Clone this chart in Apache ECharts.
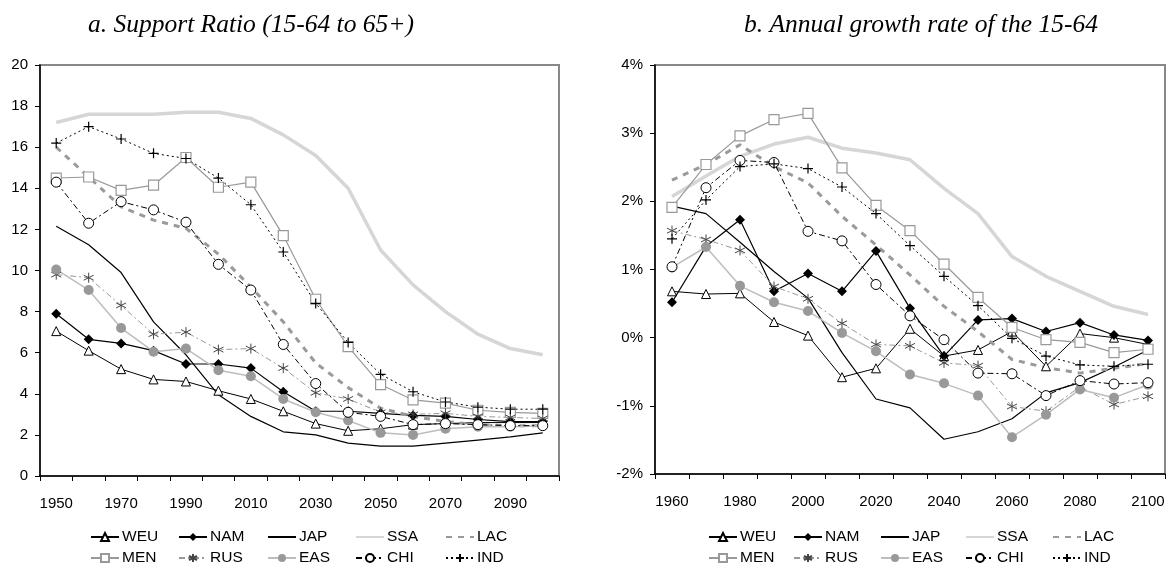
<!DOCTYPE html>
<html>
<head>
<meta charset="utf-8">
<script src="https://cdn.jsdelivr.net/npm/echarts@6/dist/echarts.min.js"></script>
<style>
  html, body { margin: 0; padding: 0; background: #fff; }
  #chart { width: 1175px; height: 568px; }
</style>
</head>
<body>
<div id="chart"></div>
<script>
// categories
const yearsA = ['1950', '1960', '1970', '1980', '1990', '2000', '2010', '2020', '2030', '2040', '2050', '2060', '2070', '2080', '2090', '2100']
const yearsB = ['1960', '1970', '1980', '1990', '2000', '2010', '2020', '2030', '2040', '2050', '2060', '2070', '2080', '2090', '2100']

// a. support ratio (15-64 to 65+)
const WEU_a = [7.05, 6.1, 5.2, 4.7, 4.6, 4.15, 3.75, 3.15, 2.55, 2.2, 2.3, 2.5, 2.55, 2.6, 2.6, 2.6]
const NAM_a = [7.9, 6.65, 6.45, 6.1, 5.45, 5.45, 5.25, 4.1, 3.15, 3.15, 3.05, 2.95, 2.9, 2.75, 2.65, 2.65]
const JAP_a = [12.15, 11.25, 9.9, 7.5, 5.9, 3.95, 2.9, 2.15, 2.0, 1.6, 1.45, 1.45, 1.6, 1.75, 1.9, 2.1]
const SSA_a = [17.2, 17.6, 17.6, 17.6, 17.7, 17.7, 17.4, 16.6, 15.6, 14.0, 11.0, 9.3, 8.0, 6.9, 6.2, 5.9]
const LAC_a = [16.0, 14.55, 13.1, 12.45, 12.05, 10.8, 9.2, 7.5, 5.5, 4.3, 3.3, 2.9, 2.65, 2.5, 2.45, 2.45]
const MEN_a = [14.5, 14.55, 13.9, 14.15, 15.5, 14.05, 14.3, 11.7, 8.6, 6.3, 4.45, 3.7, 3.55, 3.2, 3.1, 3.05]
const RUS_a = [9.8, 9.65, 8.3, 6.9, 7.0, 6.15, 6.2, 5.25, 4.05, 3.75, 3.1, 3.0, 3.05, 2.9, 2.85, 2.8]
const EAS_a = [10.05, 9.05, 7.2, 6.05, 6.2, 5.15, 4.85, 3.75, 3.1, 2.7, 2.1, 2.0, 2.3, 2.4, 2.4, 2.45]
const CHI_a = [14.3, 12.3, 13.35, 12.95, 12.35, 10.3, 9.05, 6.4, 4.5, 3.1, 2.9, 2.5, 2.55, 2.5, 2.45, 2.45]
const IND_a = [16.2, 17.0, 16.4, 15.7, 15.45, 14.5, 13.2, 10.9, 8.4, 6.5, 4.95, 4.1, 3.6, 3.35, 3.25, 3.25]

// b. annual growth rate of the 15-64 (percent)
const WEU_b = [0.68, 0.64, 0.65, 0.23, 0.03, -0.58, -0.45, 0.13, -0.27, -0.18, 0.09, -0.42, 0.06, 0.0, -0.1]
const NAM_b = [0.52, 1.34, 1.73, 0.68, 0.94, 0.68, 1.27, 0.43, -0.27, 0.26, 0.28, 0.09, 0.22, 0.04, -0.04]
const JAP_b = [1.93, 1.82, 1.4, 0.97, 0.58, -0.22, -0.9, -1.03, -1.49, -1.38, -1.19, -0.81, -0.66, -0.43, -0.18]
const SSA_b = [2.07, 2.37, 2.66, 2.84, 2.94, 2.78, 2.71, 2.61, 2.19, 1.82, 1.19, 0.9, 0.68, 0.46, 0.34]
const LAC_b = [2.31, 2.54, 2.83, 2.51, 2.27, 1.78, 1.36, 0.92, 0.46, 0.09, -0.32, -0.44, -0.52, -0.45, -0.38]
const MEN_b = [1.91, 2.54, 2.96, 3.2, 3.29, 2.49, 1.94, 1.57, 1.08, 0.59, 0.15, -0.03, -0.07, -0.22, -0.17]
const RUS_b = [1.57, 1.44, 1.28, 0.75, 0.57, 0.21, -0.1, -0.12, -0.37, -0.41, -1.01, -1.08, -0.72, -0.98, -0.86]
const EAS_b = [1.03, 1.33, 0.76, 0.52, 0.39, 0.07, -0.2, -0.54, -0.67, -0.85, -1.46, -1.13, -0.76, -0.88, -0.69]
const CHI_b = [1.04, 2.2, 2.6, 2.57, 1.56, 1.42, 0.78, 0.32, -0.03, -0.52, -0.53, -0.85, -0.63, -0.68, -0.66]
const IND_b = [1.45, 2.02, 2.51, 2.55, 2.48, 2.21, 1.82, 1.35, 0.9, 0.47, -0.01, -0.27, -0.4, -0.42, -0.39]

const names = ['WEU', 'NAM', 'JAP', 'SSA', 'LAC', 'MEN', 'RUS', 'EAS', 'CHI', 'IND']
const dataA = { WEU: WEU_a, NAM: NAM_a, JAP: JAP_a, SSA: SSA_a, LAC: LAC_a, MEN: MEN_a, RUS: RUS_a, EAS: EAS_a, CHI: CHI_a, IND: IND_a }
const dataB = { WEU: WEU_b, NAM: NAM_b, JAP: JAP_b, SSA: SSA_b, LAC: LAC_b, MEN: MEN_b, RUS: RUS_b, EAS: EAS_b, CHI: CHI_b, IND: IND_b }

const FONT = '"Liberation Sans", Arial, sans-serif'
const ASTER = 'path://M5,0L5,10M0.7,2.5L9.3,7.5M0.7,7.5L9.3,2.5'
const PLUS = 'path://M5,0L5,10M0,5L10,5'

// look of each region's line
const looks = {
  WEU: { line: { color: '#000', width: 1 }, symbol: 'triangle', size: 9, item: { color: '#fff', borderColor: '#000', borderWidth: 1 } },
  NAM: { line: { color: '#000', width: 1.2 }, symbol: 'diamond', size: 10, item: { color: '#000', borderColor: '#000', borderWidth: 0 } },
  JAP: { line: { color: '#000', width: 1.2 }, symbol: 'none', size: 0, item: { color: '#000' } },
  SSA: { line: { color: '#d6d6d6', width: 3.5 }, symbol: 'none', size: 0, item: { color: '#d6d6d6' } },
  LAC: { line: { color: '#9a9a9a', width: 3, type: [6, 6] }, symbol: 'none', size: 0, item: { color: '#9a9a9a' } },
  MEN: { line: { color: '#999', width: 1.2 }, symbol: 'rect', size: 10, item: { color: '#fff', borderColor: '#999', borderWidth: 1.2 } },
  RUS: { line: { color: '#999', width: 1, type: [6, 3, 2, 3] }, symbol: ASTER, size: 10, item: { color: 'none', borderColor: '#444', borderWidth: 1 } },
  EAS: { line: { color: '#bdbdbd', width: 1.5 }, symbol: 'circle', size: 10, item: { color: '#999', borderColor: '#999', borderWidth: 0 } },
  CHI: { line: { color: '#000', width: 1, type: [6, 3, 2, 3] }, symbol: 'circle', size: 10, item: { color: '#fff', borderColor: '#000', borderWidth: 1 } },
  IND: { line: { color: '#000', width: 1, type: [2, 3] }, symbol: PLUS, size: 10, item: { color: 'none', borderColor: '#000', borderWidth: 1.2 } }
}

function makeSeries (name, data, idx) {
  const lk = looks[name]
  return {
    name: name,
    type: 'line',
    xAxisIndex: idx,
    yAxisIndex: idx,
    data: data,
    symbol: lk.symbol,
    symbolSize: lk.size,
    showSymbol: lk.symbol !== 'none',
    showAllSymbol: true,
    lineStyle: lk.line,
    itemStyle: lk.item,
    emphasis: { disabled: true }
  }
}

const series = []
names.forEach(n => series.push(makeSeries(n, dataA[n], 0)))
names.forEach(n => series.push(makeSeries(n, dataB[n], 1)))

// legends: one per item so columns line up
const legendCols = [[90, 178, 267, 355, 445], [708, 793, 880, 965, 1052]]
const legendRows = [529, 550]
const legends = []
legendCols.forEach(cols => {
  names.forEach((n, i) => {
    const item = { name: n }
    // plain lines have no marker in the key
    if (looks[n].symbol === 'none') item.itemStyle = { opacity: 0 }
    legends.push({
      data: [item],
      left: cols[i % 5],
      top: legendRows[Math.floor(i / 5)],
      itemWidth: 28,
      itemHeight: 10,
      itemGap: 0,
      padding: 0,
      selectedMode: false,
      textStyle: { fontFamily: FONT, fontSize: 15.5, color: '#000', padding: [0, 0, 0, -2] }
    })
  })
})

function xAxis (cats, idx) {
  return {
    type: 'category',
    gridIndex: idx,
    data: cats,
    boundaryGap: true,
    axisLine: { onZero: false, lineStyle: { color: '#000', width: 1.5 } },
    axisTick: { show: true, interval: 0, length: 5, lineStyle: { color: '#000' } },
    axisLabel: { interval: 1, margin: 20, fontFamily: FONT, fontSize: 15, color: '#000' },
    splitLine: { show: false }
  }
}

function yAxis (idx, min, max, fmt) {
  return {
    type: 'value',
    gridIndex: idx,
    min: min,
    max: max,
    interval: idx === 0 ? 2 : 1,
    axisLine: { show: true, lineStyle: { color: '#000', width: 1.5 } },
    axisTick: { show: true, length: 5, lineStyle: { color: '#000' } },
    axisLabel: { margin: 12, fontFamily: FONT, fontSize: 15, color: '#000', formatter: fmt },
    splitLine: { show: false }
  }
}

const TITLE_FONT = 'italic 25.5px "Liberation Serif", serif'

const option = {
  animation: false,
  backgroundColor: '#fff',
  graphic: [
    { type: 'text', x: 251, y: 25, style: { text: 'a. Support Ratio (15-64 to 65+)', font: TITLE_FONT, fill: '#000', textAlign: 'center', textVerticalAlign: 'middle' } },
    { type: 'text', x: 921, y: 25, style: { text: 'b. Annual growth rate of the 15-64', font: TITLE_FONT, fill: '#000', textAlign: 'center', textVerticalAlign: 'middle' } }
  ],
  grid: [
    { left: 40, right: 616, top: 65, bottom: 92, show: true, borderColor: '#888', borderWidth: 2 },
    { left: 655, right: 10, top: 65, bottom: 94, show: true, borderColor: '#888', borderWidth: 2 }
  ],
  xAxis: [xAxis(yearsA, 0), xAxis(yearsB, 1)],
  yAxis: [yAxis(0, 0, 20, '{value}'), yAxis(1, -2, 4, '{value}%')],
  legend: legends,
  series: series
}

const chart = echarts.init(document.getElementById('chart'))
chart.setOption(option)
</script>
</body>
</html>
